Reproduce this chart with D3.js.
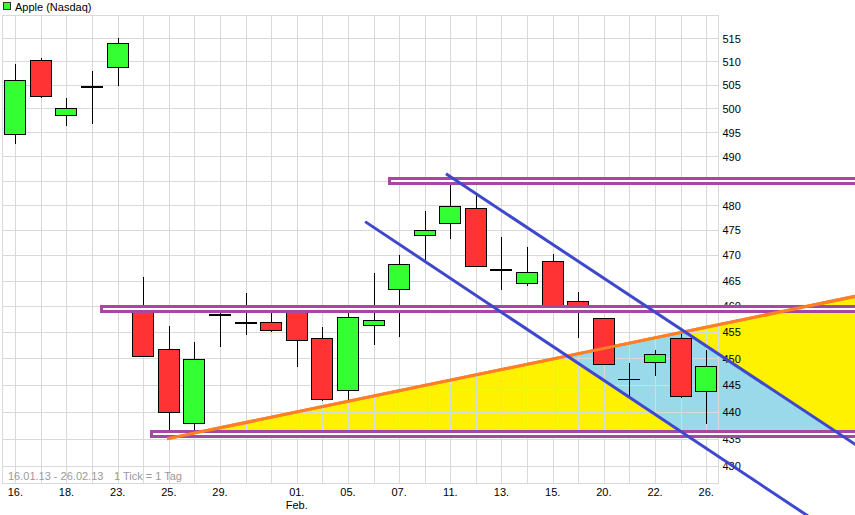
<!DOCTYPE html>
<html><head><meta charset="utf-8">
<script src="https://cdn.jsdelivr.net/npm/d3@7"></script>
<style>body{margin:0;background:#fff;overflow:hidden}svg{display:block}</style>
</head><body><svg id="c" width="855" height="515"></svg>
<script>
// ---------- data ----------
const dates = ["16.01","17.01","18.01","22.01","23.01","24.01","25.01","28.01","29.01","30.01","31.01",
  "01.02","04.02","05.02","06.02","07.02","08.02","11.02","12.02","13.02","14.02","15.02","19.02","20.02","21.02","22.02","25.02","26.02"];
const open  = [494.64,510.31,498.52,504.56,508.81,460.00,451.69,437.83,458.50,457.00,456.98,
  459.11,453.91,444.05,456.47,463.25,474.00,476.50,479.51,467.21,464.52,468.85,461.10,457.69,446.00,449.25,453.85,443.82];
const high  = [509.44,510.75,502.22,507.88,514.99,465.73,456.23,453.21,460.20,462.60,459.28,
  459.48,455.94,459.74,466.50,470.00,478.81,484.94,482.38,473.64,471.64,470.16,462.73,457.69,449.17,451.60,455.12,451.54];
const low   = [492.50,502.10,496.40,496.63,504.77,450.25,435.00,435.86,452.12,454.50,455.05,
  448.35,442.00,442.22,452.58,454.12,469.10,473.25,467.74,463.22,464.02,459.92,453.85,448.80,442.82,446.60,442.57,437.66];
const close = [506.09,502.68,500.00,504.77,514.01,450.50,439.88,449.83,458.27,456.83,455.49,
  453.62,442.32,457.84,457.35,468.22,474.98,479.93,467.90,467.01,466.59,460.16,459.99,448.85,446.06,450.81,442.80,448.50];

const xTickDates  = ["16.01","18.01","23.01","25.01","29.01","01.02","05.02","07.02","11.02","13.02","15.02","20.02","22.02","26.02"];
const xTickLabels = ["16.","18.","23.","25.","29.","01.","05.","07.","11.","13.","15.","20.","22.","26."];
const monthLabelDate = "01.02";
const monthLabel = "Feb.";
const yTicks = [430,435,440,445,450,455,460,465,470,475,480,485,490,495,500,505,510,515];
const yGrid  = [430,435,440,445,450,455,460,465,470,475,480,485,490,495,500,505,510,515,520];

// drawn overlays (fractional trading-day index, price)
const levelPrice    = [484.9, 459.55, 435.9];
const levelStartIdx = [14.62, 3.36, 5.30];
const levelEndIdx   = [33.6, 33.6, 33.6];
const trendIdx      = [5.93, 33.0];
const trendPrice    = [435.0, 462.1];
const chanUpperIdx  = [16.83, 33.2];
const chanUpperPrice= [486.4, 432.8];
const chanLowerIdx  = [13.67, 31.2];
const chanLowerPrice= [476.7, 420.4];

const legendLabel = "Apple (Nasdaq)";
const rangeNote = "16.01.13 - 26.02.13";
const tickNote = "1 Tick = 1 Tag";

// ---------- scales ----------
const FONT = "'Liberation Sans', Arial, sans-serif";
const L = 2.5, R = 718.5, T = 15, B = 483;
const svg = d3.select("#c");
const x = d3.scaleBand().domain(dates).range([L, R + 0.5]).padding(0);
const cx = d => x(d) + x.bandwidth() / 2;
const xi = d3.scaleLinear().domain([-0.5, dates.length - 0.5]).range([L, R + 0.5]);
const y = d3.scaleLog().domain([426.97, 520.08]).range([B, T]);

const GREEN = "#33ff33", RED = "#ff3333";
const YELLOW = "#fff200", LBLUE = "#99d9ea", ORANGE = "#ff7f27", PURPLE = "#a349a4", BLUE = "#3f48cc";

svg.append("rect").attr("width", 855).attr("height", 515).attr("fill", "#fff");

// ---------- fills ----------
const tA = [xi(trendIdx[0]), y(trendPrice[0])], tB = [xi(trendIdx[1]), y(trendPrice[1])];
const yb = y(levelPrice[2]);
const t = (yb - tA[1]) / (tB[1] - tA[1]);
const tP = [tA[0] + t * (tB[0] - tA[0]), yb];
const tri = [tP, tB, [tB[0], yb]];
const defs = svg.append("defs");
defs.append("clipPath").attr("id", "tri").append("polygon").attr("points", tri.map(p => p.join(",")).join(" "));
svg.append("polygon").attr("points", tri.map(p => p.join(",")).join(" ")).attr("fill", YELLOW);

const U0 = [xi(chanUpperIdx[0]), y(chanUpperPrice[0])], U1 = [xi(chanUpperIdx[1]), y(chanUpperPrice[1])];
const L0 = [xi(chanLowerIdx[0]), y(chanLowerPrice[0])], L1 = [xi(chanLowerIdx[1]), y(chanLowerPrice[1])];
svg.append("polygon").attr("points", [L0, U0, U1, L1].map(p => p.join(",")).join(" "))
  .attr("fill", LBLUE).attr("clip-path", "url(#tri)");

// ---------- grid ----------
const grid = svg.append("g").attr("stroke", "#d9d9d9").attr("stroke-width", 1).attr("shape-rendering", "crispEdges");
grid.selectAll(".v").data(dates).join("line")
  .attr("x1", d => Math.round(cx(d)) + 0.5).attr("x2", d => Math.round(cx(d)) + 0.5).attr("y1", T).attr("y2", B);
grid.selectAll(".h").data(yGrid).join("line")
  .attr("x1", L).attr("x2", R).attr("y1", d => Math.round(y(d)) + 0.5).attr("y2", d => Math.round(y(d)) + 0.5);
svg.append("rect").attr("x", L).attr("y", T + 0.5).attr("width", R - L).attr("height", B - T)
  .attr("fill", "none").attr("stroke", "#d9d9d9").attr("shape-rendering", "crispEdges");

// ---------- orange trendline (under candles) ----------
svg.append("line").attr("x1", tA[0]).attr("y1", tA[1]).attr("x2", tB[0]).attr("y2", tB[1])
  .attr("stroke", ORANGE).attr("stroke-width", 3);

// ---------- candles ----------
const cg = svg.append("g").attr("shape-rendering", "crispEdges");
dates.forEach((d, i) => {
  const c = Math.round(cx(d));
  cg.append("line").attr("x1", c + 0.5).attr("x2", c + 0.5)
    .attr("y1", y(high[i])).attr("y2", y(low[i])).attr("stroke", "#000");
  const top = y(Math.max(open[i], close[i])), bot = y(Math.min(open[i], close[i]));
  const h = bot - top;
  if (h < 1.5) {
    cg.append("rect").attr("x", c - 11).attr("width", 22)
      .attr("y", Math.round(top)).attr("height", Math.round(h) + 1).attr("fill", "#000");
  } else {
    cg.append("rect").attr("x", c - 10.5).attr("width", 21)
      .attr("y", Math.round(top) + 0.5).attr("height", Math.round(h))
      .attr("fill", close[i] >= open[i] ? GREEN : RED).attr("stroke", "#000");
  }
});

// ---------- y axis labels ----------
const ya = svg.append("g").attr("transform", `translate(${R},0)`)
  .call(d3.axisRight(y).tickValues(yTicks).tickSize(0).tickPadding(4).tickFormat(d3.format("d")));
ya.select(".domain").remove();
ya.selectAll("text").attr("font-family", FONT).attr("font-size", 11).attr("fill", "#000").attr("dy", "0.34em");

// ---------- horizontal levels ----------
const lv = svg.append("g").attr("shape-rendering", "crispEdges");
function levelBox(i, fill) {
  const x0 = Math.round(xi(levelStartIdx[i])), x1 = Math.round(xi(levelEndIdx[i]));
  const yc = Math.round(y(levelPrice[i]) - 3);
  lv.append("rect").attr("x", x0 + 0.5).attr("y", yc + 0.5).attr("width", x1 - x0).attr("height", 5)
    .attr("fill", fill).attr("stroke", PURPLE).attr("stroke-width", 3);
}
levelPrice.forEach((p, i) => levelBox(i, "#fff"));
// orange visible inside the level boxes, then outlines on top
svg.append("line").attr("x1", tA[0]).attr("y1", tA[1]).attr("x2", tB[0]).attr("y2", tB[1])
  .attr("stroke", ORANGE).attr("stroke-width", 3);
levelPrice.forEach((p, i) => levelBox(i, "none"));

// ---------- channel lines ----------
svg.append("line").attr("x1", U0[0]).attr("y1", U0[1]).attr("x2", U1[0]).attr("y2", U1[1])
  .attr("stroke", BLUE).attr("stroke-width", 3);
svg.append("line").attr("x1", L0[0]).attr("y1", L0[1]).attr("x2", L1[0]).attr("y2", L1[1])
  .attr("stroke", BLUE).attr("stroke-width", 3);

// ---------- x axis labels ----------
const xa = svg.append("g").attr("transform", `translate(0,${B})`)
  .call(d3.axisBottom(x).tickValues(xTickDates).tickSize(0).tickPadding(5)
    .tickFormat(d => xTickLabels[xTickDates.indexOf(d)]));
xa.select(".domain").remove();
xa.selectAll("text").attr("font-family", FONT).attr("font-size", 11).attr("fill", "#000");
svg.append("text").attr("x", cx(monthLabelDate)).attr("y", 509).attr("text-anchor", "middle")
  .attr("font-family", FONT).attr("font-size", 11).text(monthLabel);

// ---------- notes & legend ----------
svg.append("text").attr("x", 8).attr("y", 480).attr("font-family", FONT).attr("font-size", 11)
  .attr("fill", "#9a9a9a").text(rangeNote);
svg.append("text").attr("x", 114).attr("y", 480).attr("font-family", FONT).attr("font-size", 11)
  .attr("fill", "#9a9a9a").text(tickNote);
svg.append("rect").attr("x", 3.5).attr("y", 2.5).attr("width", 7).attr("height", 7)
  .attr("fill", GREEN).attr("stroke", "#333").attr("shape-rendering", "crispEdges");
svg.append("text").attr("x", 15).attr("y", 10.5).attr("font-family", FONT).attr("font-size", 11)
  .attr("fill", "#000").text(legendLabel);
</script></body></html>
